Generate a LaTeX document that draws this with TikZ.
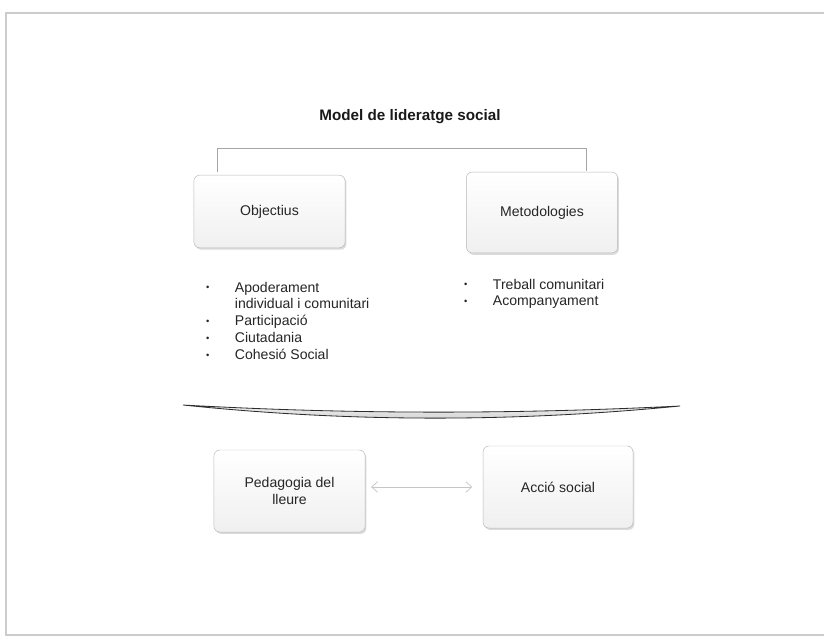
\documentclass[tikz,border=0pt]{standalone}
\usepackage{fontspec}
\setmainfont{Liberation Sans}
\usepackage{tikz}
\usetikzlibrary{arrows.meta}
\usetikzlibrary{shadows,calc}
\tikzset{>=stealth}
\tikzset{
  panel/.style={draw=gray!55, rounded corners=5pt, top color=white, bottom color=gray!12,
    drop shadow={shadow xshift=1.2pt, shadow yshift=-1.6pt, fill=gray!50, opacity=.55},
    minimum width=129pt, text=black!85, font=\fontsize{12}{14.5}\selectfont, align=center},
  bracket/.style={draw=gray!70, line width=0.6pt},
  duo/.style={draw=gray!45, line width=0.6pt, {Straight Barb[length=5pt,width=9pt]}-{Straight Barb[length=5pt,width=9pt]}},
  bullets/.style={anchor=base west, inner sep=0pt, text=black!85, font=\fontsize{12}{14.5}\selectfont}
}
\newcommand{\dotitem}{\makebox[24.5pt][l]{\fontsize{8}{8}\selectfont\raisebox{1.2pt}{•}}}

\begin{document}
\begin{tikzpicture}[x=0.03cm, y=-0.03cm]
        \useasboundingbox (0,0) rectangle (824,637);
        \fill[white] (0,0) rectangle (824,637);
        \draw[gray!40, line width=1.2pt] (830,13) -- (6,13) -- (6,635) -- (830,635);

        \node[font=\fontsize{13}{15}\selectfont\bfseries, text=black!90] (title) at (410,117) {Model de lideratge social};

        \node[panel, minimum height=62pt] (obj) at (269.5,211.5) {Objectius};
        \node[panel, minimum height=69pt] (met) at (542,212.5) {Metodologies};
        \draw[bracket] ($(obj.north west)+(24,-3)$) |- ($(met.north east)+(-31,-23)$) -- ($(met.north east)+(-31,-1)$);

        \node[bullets] (objlist) at (206,292) {\begin{tabular}[t]{@{}l@{}}
          \dotitem Apoderament\\
          \hspace{24.5pt}individual i comunitari\\
          \dotitem Participació\\
          \dotitem Ciutadania\\
          \dotitem Cohesió Social
        \end{tabular}};
        \node[bullets] (metlist) at (464,289) {\begin{tabular}[t]{@{}l@{}}
          \dotitem Treball comunitari\\
          \dotitem Acompanyament
        \end{tabular}};

        \draw[draw=gray!35!black, line width=0.7pt, top color=gray!10, bottom color=gray!40]
          (183,405) .. controls (350,414.3) and (513,414.3) .. (680,406)
          .. controls (513,422.3) and (350,422.3) .. cycle;

        \node[panel, minimum height=70pt] (ped) at (289.5,491) {Pedagogia del\\lleure};
        \node[panel, minimum height=70pt, minimum width=128pt] (acc) at (558,487) {Acció social};
        \draw[duo, shorten <=5pt, shorten >=9pt] (ped.east |- acc.west) -- (acc.west);
\end{tikzpicture}
\end{document}
